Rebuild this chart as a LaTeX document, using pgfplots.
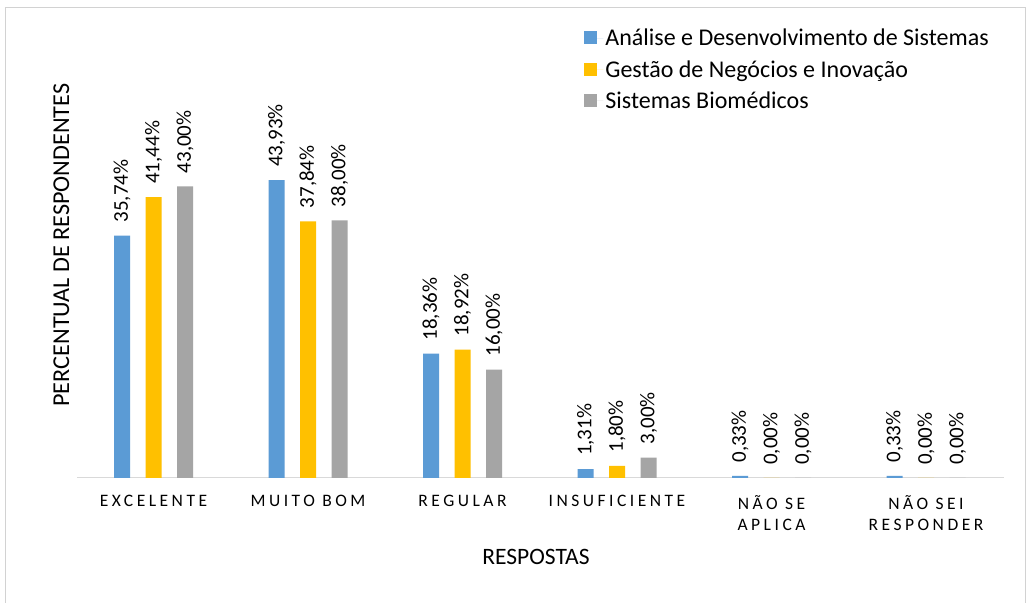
\documentclass[border=0pt]{standalone}
\usepackage{fontspec}
\setmainfont{Carlito}
\newfontfamily\spaced[LetterSpace=20]{Carlito}
\usepackage{pgfplots}
\pgfplotsset{compat=1.18}
\definecolor{cA}{HTML}{5B9BD5}
\definecolor{cB}{HTML}{FFC000}
\definecolor{cC}{HTML}{A5A5A5}
\begin{document}
\begin{tikzpicture}[x=1bp,y=1bp]
\useasboundingbox (0,0) rectangle (1032,603);
\fill[white] (0,0) rectangle (1032,603);
\draw[draw=gray!35, line width=0.8bp] (5,-5) rectangle (1025,596);
\begin{axis}[
  at={(153.5bp,125bp)}, anchor=origin,
  scale only axis, width=927bp, height=339bp,
  ymin=0, ymax=50, xmin=-0.4944, xmax=5.5056,
  ybar=15.5bp, bar width=16bp,
  axis y line=none, axis x line*=bottom,
  x axis line style={draw=gray!30, line width=1bp, -},
  xtick={0,1,2,3,4,5}, major tick length=0pt,
  xticklabels={EXCELENTE, MUITO BOM, REGULAR, INSUFICIENTE, {NÃO SE\\APLICA}, {NÃO SEI\\RESPONDER}},
  xticklabel style={font=\fontsize{17.5bp}{21bp}\selectfont\spaced, align=center, text depth=0pt, yshift=-14bp},
  /pgf/number format/assume math mode=true,
  nodes near coords={\pgfmathprintnumber[fixed,fixed zerofill,precision=2,use comma]{\pgfplotspointmeta}\%},
  every node near coord/.append style={anchor=west, rotate=90, font=\fontsize{21bp}{24bp}\selectfont, black, inner sep=0pt, xshift=13bp},
  legend style={at={(axis description cs:0.547,1.33)}, anchor=north west, draw=none, fill=none, font=\fontsize{24bp}{28bp}\selectfont, row sep=9bp, inner sep=0pt, legend cell align=left},
  legend image code/.code={\path (0bp,0bp) -- (19bp,0bp); \fill[#1] (0bp,-6bp) rectangle (13bp,7bp);},
  clip=false,
]
\addplot[fill=cA, draw=none] coordinates {(0,35.74) (1,43.93) (2,18.36) (3,1.31) (4,0.33) (5,0.33)};
\addplot[fill=cB, draw=none] coordinates {(0,41.44) (1,37.84) (2,18.92) (3,1.80) (4,0.00) (5,0.00)};
\addplot[fill=cC, draw=none] coordinates {(0,43.00) (1,38.00) (2,16.00) (3,3.00) (4,0.00) (5,0.00)};
\legend{Análise e Desenvolvimento de Sistemas, Gestão de Negócios e Inovação, Sistemas Biomédicos}
\node[font=\fontsize{23.5bp}{26bp}\selectfont] at (axis description cs:0.495,-0.233) {RESPOSTAS};
\node[font=\fontsize{24.2bp}{26bp}\selectfont, rotate=90] at (axis description cs:-0.017,0.687) {PERCENTUAL DE RESPONDENTES};
\end{axis}
\end{tikzpicture}
\end{document}
